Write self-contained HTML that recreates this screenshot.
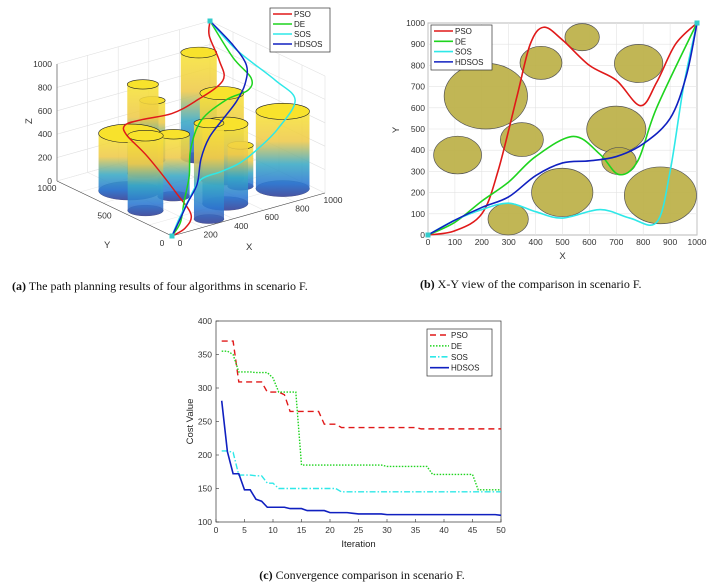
<!DOCTYPE html>
<html><head><meta charset="utf-8"><style>
html,body{margin:0;padding:0;background:#fff;}
svg{display:block;font-family:"Liberation Sans",sans-serif;}
.cap{font-family:"Liberation Serif",serif;font-size:12px;fill:#111;}
.tk{font-size:8.5px;fill:#333;}
</style></head><body>
<svg id="fig" width="713" height="586" viewBox="0 0 713 586">
<defs>
<linearGradient id="cyl" x1="0" y1="0" x2="0" y2="1">
<stop offset="0" stop-color="#f7e436"/><stop offset="0.35" stop-color="#eec94a"/>
<stop offset="0.62" stop-color="#3aa9c4"/><stop offset="0.85" stop-color="#2c78d2"/><stop offset="1" stop-color="#4450a0"/>
</linearGradient>
</defs>
<g id="pa"></g>
<g id="pb"></g>
<g id="pc"></g>
<text class="cap" x="12" y="290"><tspan font-weight="bold">(a)</tspan> The path planning results of four algorithms in scenario F.</text>
<text class="cap" x="420" y="288"><tspan font-weight="bold">(b)</tspan> X-Y view of the comparison in scenario F.</text>
<text class="cap" x="362" y="579" text-anchor="middle"><tspan font-weight="bold">(c)</tspan> Convergence comparison in scenario F.</text>
</svg>
<script>
// ---- data ----
const iterations = Array.from({length:50},(_,i)=>i+1);
const psoCost = [370,370,370,309,309,309,309,309,294,294,294,290,265,265,265,265,265,265,246,246,246,241,241,241,241,241,241,241,241,241,241,241,241,241,241,239,239,239,239,239,239,239,239,239,239,239,239,239,239,239];
const deCost = [355,355,350,324,324,324,323,323,323,315,294,294,294,294,185,185,185,185,185,185,185,185,185,185,185,185,185,185,185,183,183,183,183,183,183,183,183,171,171,171,171,171,171,171,171,148,148,148,148,148];
const sosCost = [206,206,204,170,170,170,169,169,158,158,150,150,150,150,150,150,150,150,150,150,150,145,145,145,145,145,145,145,145,145,145,145,145,145,145,145,145,145,145,145,145,145,145,145,145,145,145,145,145,145];
const hdsosCost = [281,205,172,172,148,148,134,131,122,122,122,122,120,120,120,117,117,117,117,114,114,114,114,113,112,112,112,112,112,111,111,111,111,111,111,111,111,111,111,111,111,111,111,111,111,111,111,111,111,110];
const xTicksC = [0,5,10,15,20,25,30,35,40,45,50];
const yTicksC = [100,150,200,250,300,350,400];
const algNames = ["PSO","DE","SOS","HDSOS"];
const algColors = ["#e01919","#1ed41e","#2ee8e8","#1020c0"];
// obstacles: [x, y, radius, height]
const obsX = [215,420,573,783,110,349,700,710,499,298,864];
const obsY = [655,812,933,809,377,450,498,349,201,75,187];
const obsR = [155,78,64,90,89,80,110,64,114,75,134];
const obsH = [490,760,510,900,640,530,730,350,680,820,660];
// paths (x,y,z key points)
const pathX = [[0,100,200,260,330,380,430,500,600,700,790,850,920,1000],[0,100,200,300,400,540,640,710,780,850,1000],[0,100,200,300,400,500,640,750,850,900,950,1000],[0,100,200,300,400,500,600,700,800,900,960,1000]];
const pathY = [[0,20,100,300,650,900,980,920,800,730,610,720,900,1000],[0,60,160,250,370,465,380,285,350,600,1000],[0,70,120,150,110,80,120,80,60,300,700,1000],[0,70,130,180,280,340,350,370,430,550,750,1000]];
const pathZ = [[0,20,60,120,250,300,330,380,450,550,750,850,950,1000],[0,50,150,280,420,570,750,850,900,930,1000],[0,80,180,300,350,400,440,600,820,860,910,1000],[0,60,150,250,380,500,620,720,800,870,930,1000]];

const NS="http://www.w3.org/2000/svg";
function mk(parent,tag,attrs,name,txt){const e=document.createElementNS(NS,tag);for(const k in attrs)e.setAttribute(k,attrs[k]);


if(txt!==undefined)e.textContent=txt;parent.appendChild(e);return e;}
function smooth(pts){let d=`M${pts[0][0]},${pts[0][1]}`;for(let i=0;i<pts.length-1;i++){const p0=pts[Math.max(0,i-1)],p1=pts[i],p2=pts[i+1],p3=pts[Math.min(pts.length-1,i+2)];
const c1=[p1[0]+(p2[0]-p0[0])/6,p1[1]+(p2[1]-p0[1])/6],c2=[p2[0]-(p3[0]-p1[0])/6,p2[1]-(p3[1]-p1[1])/6];d+=` C${c1[0]},${c1[1]} ${c2[0]},${c2[1]} ${p2[0]},${p2[1]}`;}return d;}
function legend(g,x,y,w,h,styles,prefix){mk(g,'rect',{x:x,y:y,width:w,height:h,fill:'#fff',stroke:'#333','stroke-width':0.7},prefix+'legend-box');
algNames.forEach((n,i)=>{const yy=y+6+i*(h-10)/3.4;mk(g,'line',Object.assign({x1:x+3,x2:x+22,y1:yy,y2:yy,stroke:algColors[i],'stroke-width':1.6},styles[i]||{}),prefix+'legend-line-'+n.toLowerCase());
mk(g,'text',{x:x+24,y:yy+3,'font-size':8,fill:'#222'},prefix+'legend-entry-'+n.toLowerCase(),n);});}

// ---- panel C ----
(function(){const g=document.getElementById('pc');const L=216,R=501,T=321,B=522;
const xs=v=>L+v/50*(R-L), ys=v=>B-(v-100)/300*(B-T);
mk(g,'rect',{x:L,y:T,width:R-L,height:B-T,fill:'#fff',stroke:'#333','stroke-width':0.7},'c-plot-area');
xTicksC.forEach(t=>{mk(g,'line',{x1:xs(t),x2:xs(t),y1:B,y2:B-3,stroke:'#333','stroke-width':0.6},'c-x-tick');mk(g,'text',{x:xs(t),y:B+11,'text-anchor':'middle',class:'tk'},'c-x-tick-label',t);});
yTicksC.forEach(t=>{mk(g,'line',{x1:L,x2:L+3,y1:ys(t),y2:ys(t),stroke:'#333','stroke-width':0.6},'c-y-tick');mk(g,'text',{x:L-4,y:ys(t)+3,'text-anchor':'end',class:'tk'},'c-y-tick-label',t);});
mk(g,'text',{x:(L+R)/2,y:547,'text-anchor':'middle','font-size':9.5,fill:'#222'},'c-x-axis-title','Iteration');
mk(g,'text',{x:193,y:(T+B)/2,'text-anchor':'middle','font-size':9.5,fill:'#222',transform:`rotate(-90 193 ${(T+B)/2})`},'c-y-axis-title','Cost Value');
const series=[psoCost,deCost,sosCost,hdsosCost];const st=[{'stroke-dasharray':'6 4'},{'stroke-dasharray':'1.5 1.5'},{'stroke-dasharray':'6 2 1.5 2'},{}];
series.forEach((s,k)=>{mk(g,'polyline',Object.assign({points:s.map((v,i)=>xs(iterations[i])+','+ys(v)).join(' '),fill:'none',stroke:algColors[k],'stroke-width':k==3?1.6:1.4},st[k]),'c-line-'+algNames[k].toLowerCase());});
legend(g,427,329,65,47,st,'c-');})();

// ---- panel B ----
(function(){const g=document.getElementById('pb');const L=428,R=697,T=23,B=235;
const bx=v=>L+v/1000*(R-L), by=v=>B-v/1000*(B-T);
mk(g,'rect',{x:L,y:T,width:R-L,height:B-T,fill:'#fff',stroke:'#444','stroke-width':0.6},'b-plot-area');
for(let t=0;t<=1000;t+=100){mk(g,'line',{x1:bx(t),x2:bx(t),y1:T,y2:B,stroke:'#e3e3e3','stroke-width':0.6},'b-grid-x');mk(g,'line',{x1:L,x2:R,y1:by(t),y2:by(t),stroke:'#e3e3e3','stroke-width':0.6},'b-grid-y');
mk(g,'text',{x:bx(t),y:B+10,'text-anchor':'middle',class:'tk'},'b-x-tick-label',t);mk(g,'text',{x:L-3,y:by(t)+3,'text-anchor':'end',class:'tk'},'b-y-tick-label',t);}
mk(g,'text',{x:(L+R)/2,y:259,'text-anchor':'middle','font-size':9.5,fill:'#333'},'b-x-axis-title','X');
mk(g,'text',{x:399,y:130,'text-anchor':'middle','font-size':9.5,fill:'#333',transform:'rotate(-90 399 130)'},'b-y-axis-title','Y');
obsX.forEach((x,i)=>mk(g,'ellipse',{cx:bx(x),cy:by(obsY[i]),rx:obsR[i]*(R-L)/1000,ry:obsR[i]*(B-T)/1000,fill:'#bcb046','stroke':'#555','stroke-width':0.7,'fill-opacity':0.92},'b-obstacle'));
pathX.forEach((px,k)=>mk(g,'path',{d:smooth(px.map((x,i)=>[bx(x),by(pathY[k][i])])),fill:'none',stroke:algColors[k],'stroke-width':1.6},'b-path-'+algNames[k].toLowerCase()));
mk(g,'rect',{x:bx(0)-2.5,y:by(0)-2.5,width:5,height:5,fill:'#3cc'},'b-start-point');mk(g,'rect',{x:bx(1000)-2.5,y:by(1000)-2.5,width:5,height:5,fill:'#3cc'},'b-end-point');
legend(g,431,25,61,45,[],'b-');})();

// ---- panel A ----
(function(){const g=document.getElementById('pa');const F=[172,236],VX=[153,-43],VY=[-115,-55],VZ=117;
const P=(x,y,z)=>[F[0]+x/1000*VX[0]+y/1000*VY[0],F[1]+x/1000*VX[1]+y/1000*VY[1]-z/1000*VZ];
const ln=(a,b,c,name,w)=>mk(g,'line',{x1:a[0],y1:a[1],x2:b[0],y2:b[1],stroke:c,'stroke-width':w||0.6},name);
for(let z=0;z<=1000;z+=200){ln(P(0,1000,z),P(1000,1000,z),'#e0e0e0','a-grid-back');ln(P(1000,1000,z),P(1000,0,z),'#e0e0e0','a-grid-right');}
for(let t=0;t<=1000;t+=200){ln(P(t,1000,0),P(t,1000,1000),'#e0e0e0','a-grid-back-v');ln(P(1000,t,0),P(1000,t,1000),'#e0e0e0','a-grid-right-v');ln(P(t,0,0),P(t,1000,0),'#e8e8e8','a-grid-floor');ln(P(0,t,0),P(1000,t,0),'#e8e8e8','a-grid-floor');}
ln(P(0,0,0),P(0,1000,0),'#444','a-y-axis');ln(P(0,0,0),P(1000,0,0),'#444','a-x-axis');ln(P(0,1000,0),P(0,1000,1000),'#444','a-z-axis');
for(let z=0;z<=1000;z+=200){const p=P(0,1000,z);mk(g,'text',{x:p[0]-5,y:p[1]+3,'text-anchor':'end',class:'tk'},'a-z-tick-label',z);}
[0,200,400,600,800,1000].forEach(t=>{const p=P(t,0,0);mk(g,'text',{x:p[0]+8,y:p[1]+10,'text-anchor':'middle',class:'tk'},'a-x-tick-label',t);});
[0,500,1000].forEach(t=>{const p=P(0,t,0);mk(g,'text',{x:p[0]-10,y:p[1]+10,'text-anchor':'middle',class:'tk'},'a-y-tick-label',t);});
mk(g,'text',{x:246,y:250,'font-size':9.5,fill:'#333'},'a-x-axis-title','X');mk(g,'text',{x:104,y:248,'font-size':9.5,fill:'#333'},'a-y-axis-title','Y');
mk(g,'text',{x:32,y:124,'font-size':9.5,fill:'#333',transform:'rotate(-90 32 124)'},'a-z-axis-title','Z');
const order=obsX.map((x,i)=>i).sort((a,b)=>P(obsX[a],obsY[a],0)[1]-P(obsX[b],obsY[b],0)[1]);
order.forEach(i=>{const b=P(obsX[i],obsY[i],0),t=P(obsX[i],obsY[i],obsH[i]);const rx=obsR[i]*0.2,ry=obsR[i]*0.06;
mk(g,'ellipse',{cx:b[0],cy:b[1],rx:rx,ry:ry,fill:'#4650a0','fill-opacity':0.8,stroke:'#335','stroke-width':0.4},'a-obstacle-base');
mk(g,'path',{d:`M${t[0]-rx},${t[1]} L${b[0]-rx},${b[1]} A${rx},${ry} 0 0 0 ${b[0]+rx},${b[1]} L${t[0]+rx},${t[1]} Z`,fill:'url(#cyl)','fill-opacity':0.88},'a-obstacle-body');
mk(g,'ellipse',{cx:t[0],cy:t[1],rx:rx,ry:ry,fill:'#f8e22c',stroke:'#222','stroke-width':0.6},'a-obstacle-top');});
pathX.forEach((px,k)=>mk(g,'path',{d:smooth(px.map((x,i)=>P(x,pathY[k][i],pathZ[k][i]))),fill:'none',stroke:algColors[k],'stroke-width':1.5},'a-path-'+algNames[k].toLowerCase()));
const s=P(0,0,0),e=P(1000,1000,1000);mk(g,'rect',{x:s[0]-2.5,y:s[1]-2.5,width:5,height:5,fill:'#3cc'},'a-start-point');mk(g,'rect',{x:e[0]-2.5,y:e[1]-2.5,width:5,height:5,fill:'#3cc'},'a-end-point');
legend(g,270,8,60,44,[],'a-');})();
</script>
</body></html>
